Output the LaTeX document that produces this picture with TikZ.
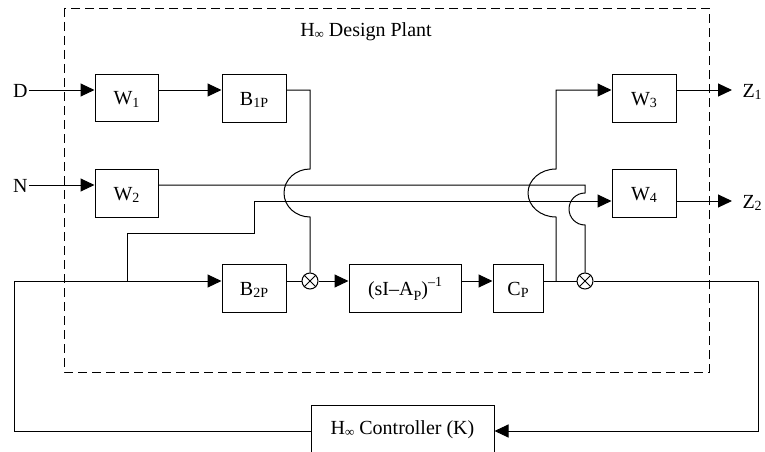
\documentclass[tikz,border=0pt]{standalone}
\usepackage{fontspec}
\setmainfont{Liberation Serif}
\usetikzlibrary{arrows.meta}
\newcommand\lowsub[1]{\raisebox{-2.5pt}{\fontsize{14}{14}\selectfont #1}}
\newcommand\hinf{H\raisebox{-2pt}{\fontsize{13}{13}\selectfont ∞}}
\begin{document}
\begin{tikzpicture}[x=1pt,y=-1pt, line width=1pt,
  blk/.style={draw, rectangle, minimum width=64pt, minimum height=48pt, inner sep=0pt,
    text height=14pt, text depth=0pt, font=\fontsize{20}{24}\selectfont},
  lbl/.style={inner sep=1pt, text height=14pt, text depth=0pt, font=\fontsize{20}{24}\selectfont},
  arr/.style={-{Triangle[length=14pt,width=13pt]}},
  sumnode/.style={draw, circle, minimum size=16pt, inner sep=0pt},
  frame/.style={dash pattern=on 9pt off 5pt, line width=0.9pt}]
\useasboundingbox (0,0) rectangle (765,452);
\clip (0,0) rectangle (765,452);
% frame
\draw[frame] (64,8) rectangle (709,372);
\node[lbl] (title) at (366,30) {\hinf\ Design Plant};
% blocks
\node[blk, minimum width=63pt, minimum height=47pt] (W1) at (126.5,97.5) {W\lowsub{1}};
\node[blk] (B1P) at (254,98) {B\lowsub{1P}};
\node[blk, minimum width=63pt] (W2) at (126.5,193) {W\lowsub{2}};
\node[blk] (W3) at (644,98) {W\lowsub{3}};
\node[blk] (W4) at (644,193) {W\lowsub{4}};
\node[blk] (B2P) at (254,288) {B\lowsub{2P}};
\node[blk, minimum width=112pt] (G) at (405,288) {(sI\textendash A\raisebox{-5pt}{\fontsize{14}{14}\selectfont P})\raisebox{9pt}{\fontsize{14}{14}\selectfont\textendash 1}};
\node[blk, minimum width=50pt] (CP) at (518,288) {C\lowsub{P}};
\node[draw, minimum width=183pt, minimum height=70pt, inner sep=0pt] (K) at (402.5,440) {};
\node[lbl] (Ktext) at (402.5,427) {\hinf\ Controller (K)};
\node[sumnode] (S1) at (310,281) {};
\node[sumnode] (S2) at (585,281) {};
\draw (S1.45) -- (S1.225) (S1.135) -- (S1.-45);
\draw (S2.45) -- (S2.225) (S2.135) -- (S2.-45);
% labels
\node[lbl, anchor=east] (D) at (29,90) {D};
\node[lbl, anchor=east] (N) at (29,185) {N};
\node[lbl, anchor=west] (Z1) at (741,90) {Z\lowsub{1}};
\node[lbl, anchor=west] (Z2) at (741,201) {Z\lowsub{2}};
% coordinates
\coordinate (b1a) at (310,90);
\coordinate (b1h) at (310,169);
\coordinate (n1) at (585,185);
\coordinate (n2) at (585,193);
\coordinate (k1) at (14,431);
\coordinate (k2) at (14,281);
\coordinate (j1) at (127,281);
\coordinate (j2) at (127,233);
\coordinate (j3) at (254,233);
\coordinate (j4) at (254,201);
\coordinate (c1) at (556,281);
\coordinate (c2) at (556,217);
\coordinate (c3) at (556,90);
\coordinate (o1) at (758,281);
\coordinate (o2) at (758,431);
\coordinate (z1t) at (732,90);
\coordinate (z2t) at (732,201);
% connectors
\draw[arr] (D.east) -- (D.east -| W1.west);
\draw[arr] (W1.east |- D.east) -- (B1P.west |- D.east);
\draw (B1P.east |- D.east) -- (b1a) -- (b1h) arc[start angle=90, end angle=270, x radius=26pt, y radius=24pt] -- (S1.north);
\draw[arr] (N.east) -- (N.east -| W2.west);
\draw (N.east -| W2.east) -- (n1) -- (n2) arc[start angle=90, end angle=270, radius=16pt] -- (S2.north);
\draw[arr] (K.west |- k1) -- (k1) -- (k2) -- (k2 -| B2P.west);
\draw[arr] (j1) -- (j2) -- (j3) -- (j4) -- (j4 -| W4.west);
\draw (B2P.east |- S1) -- (S1.west);
\draw[arr] (S1.east) -- (G.west |- S1);
\draw[arr] (G.east |- S1) -- (CP.west |- S1);
\draw (CP.east |- S1) -- (S2.west);
\draw[arr] (c1) -- (c2) arc[start angle=270, end angle=90, x radius=28pt, y radius=24pt] -- (c3) -- (c3 -| W3.west);
\draw[arr] (S2.east) -- (o1) -- (o2) -- (K.east |- o2);
\draw[arr] (W3.east |- z1t) -- (z1t);
\draw[arr] (W4.east |- z2t) -- (z2t);
\end{tikzpicture}
\end{document}
